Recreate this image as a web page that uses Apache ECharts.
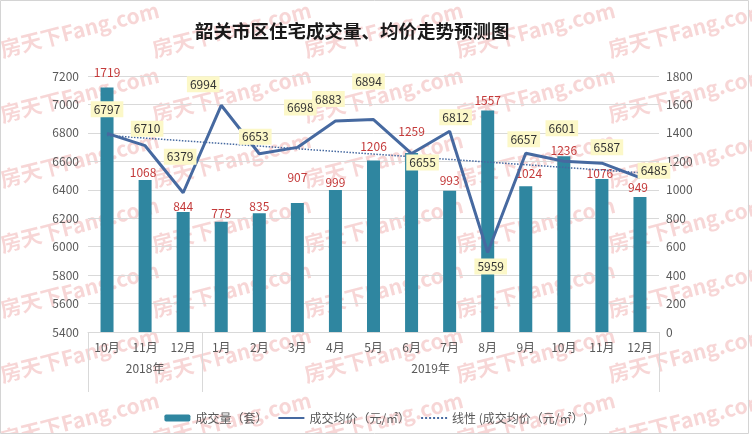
<!DOCTYPE html>
<html><head><meta charset="utf-8">
<script src="https://cdn.jsdelivr.net/npm/echarts@6/dist/echarts.min.js"></script>
<style>html,body{margin:0;padding:0;background:#fff}#c{width:752px;height:434px}</style>
</head><body><div id="c"></div>
<script>
// ---- data ----
const months = ['10月','11月','12月','1月','2月','3月','4月','5月','6月','7月','8月','9月','10月','11月','12月'];
const years = ['2018年','2019年'];
const yearSpans = [3, 12];
const volume = [1719,1068,844,775,835,907,999,1206,1259,993,1557,1024,1236,1076,949];
const price = [6797,6710,6379,6994,6653,6698,6883,6894,6655,6812,5959,6657,6601,6587,6485];
const trendEnds = [6782, 6520];
const leftTicks = {min:5400, max:7200, interval:200};
const rightTicks = {min:0, max:1800, interval:200};

// ---- styling (label placement) ----
const priceLabelOffsets = [[0,-24],[2,-17],[-3,-36],[-18,-21],[-4,-17],[3,-40],[-7,-22],[-5,-38],[11,9],[6,-14],[3,14],[-2,-14],[-2,-33],[5,-16],[14,-7]];
const volLabelOffsets = [[0,-15],[-2,-8],[0,-6],[0,-8],[0,-7],[0,-26],[0,-7],[0,-14],[0,-22],[0,-10],[0,-10],[3,-13],[0,-6],[-2,-6],[-2,-10]];

const FONT = '"Microsoft YaHei","Noto Sans CJK SC","Noto Sans",sans-serif';

// year axis: half-band slots
const nSlots = months.length * 2 + 1;
const yearAxisData = new Array(nSlots).fill('');
const tickSlots = [0];
let acc = 0;
years.forEach((y, i) => {
  yearAxisData[acc * 2 + yearSpans[i]] = y;
  acc += yearSpans[i];
  tickSlots.push(acc * 2);
});

const trendData = months.map((m, i) => i === 0 ? trendEnds[0] : (i === months.length - 1 ? trendEnds[1] : null));

const plain = v => String(v);

// watermark decorations (rotated background text)
const wm = [];
for (let r = 0; r < 7; r++) {
  for (let c = 0; c < 5; c++) {
    wm.push({
      type: 'text', x: 3 + c * 152, y: 60 + r * 65, rotation: 0.25, z: -10, silent: true,
      style: {text: '房天下Fang.com', fill: 'rgba(228,120,120,0.3)', fontSize: 21, fontWeight: 'bold', fontFamily: FONT, verticalAlign: 'bottom'}
    });
  }
}
wm.push({type:'rect', z:100, silent:true, shape:{x:0.5,y:0.5,width:748,height:433}, style:{fill:'none', stroke:'#d4d4d4', lineWidth:1}});

const chart = echarts.init(document.getElementById('c'));
chart.setOption({
  animation: false,
  backgroundColor: '#fff',
  textStyle: {fontFamily: FONT},
  title: {
    text: '韶关市区住宅成交量、均价走势预测图',
    left: 195, top: 22, padding: 0,
    textStyle: {fontSize: 18.5, fontWeight: 'bold', color: '#1a1a1a', fontFamily: FONT}
  },
  graphic: wm,
  legend: {
    top: 407, left: 'center', itemWidth: 26, itemHeight: 7, itemGap: 10,
    textStyle: {fontSize: 12, color: '#595959', fontFamily: FONT},
    data: ['成交量（套）', '成交均价（元/㎡）', '线性 (成交均价（元/㎡）)']
  },
  grid: {left: 88, right: 93, top: 76, bottom: 102, containLabel: false},
  xAxis: [
    {
      type: 'category', data: months, position: 'bottom',
      axisLine: {lineStyle: {color: '#d9d9d9'}},
      axisTick: {show: false},
      axisLabel: {interval: 0, margin: 9, fontSize: 12, color: '#595959'}
    },
    {
      type: 'category', data: yearAxisData, position: 'bottom', boundaryGap: false,
      axisLine: {show: false},
      axisTick: {show: true, length: 60, interval: (i) => tickSlots.indexOf(i) >= 0, lineStyle: {color: '#d9d9d9'}},
      axisLabel: {interval: 0, margin: 30, fontSize: 12, color: '#595959'}
    }
  ],
  yAxis: [
    {
      type: 'value', min: leftTicks.min, max: leftTicks.max, interval: leftTicks.interval,
      axisLine: {show: false}, axisTick: {show: false},
      axisLabel: {margin: 9, fontSize: 12, color: '#595959', formatter: plain},
      splitLine: {lineStyle: {color: '#d9d9d9'}}
    },
    {
      type: 'value', min: rightTicks.min, max: rightTicks.max, interval: rightTicks.interval, position: 'right',
      axisLine: {show: false}, axisTick: {show: false},
      axisLabel: {margin: 7, fontSize: 12, color: '#595959', formatter: plain},
      splitLine: {show: false}
    }
  ],
  series: [
    {
      name: '成交量（套）', type: 'bar', xAxisIndex: 0, yAxisIndex: 1, barWidth: 13,
      itemStyle: {color: '#2f86a0'},
      label: {show: true, position: ['50%', 0], align: 'center', verticalAlign: 'middle', color: '#c43a3a', fontSize: 12},
      data: volume.map((v, i) => ({value: v, label: {offset: volLabelOffsets[i]}}))
    },
    {
      name: '成交均价（元/㎡）', type: 'line', xAxisIndex: 0, yAxisIndex: 0,
      symbol: 'circle', symbolSize: 2,
      lineStyle: {color: '#4669a0', width: 3},
      itemStyle: {color: '#4669a0', opacity: 0},
      label: {show: true, position: 'inside', color: '#333', fontSize: 12, backgroundColor: '#fcf8c8', padding: [2, 3], opacity: 1},
      data: price.map((v, i) => ({value: v, label: {offset: priceLabelOffsets[i]}})),
      z: 4
    },
    {
      name: '线性 (成交均价（元/㎡）)', type: 'line', xAxisIndex: 0, yAxisIndex: 0,
      symbol: 'circle', symbolSize: 2, connectNulls: true,
      lineStyle: {color: '#4669a0', width: 1.5, type: 'dotted'},
      itemStyle: {color: '#4669a0', opacity: 0},
      data: trendData, z: 3
    }
  ]
});
</script></body></html>
